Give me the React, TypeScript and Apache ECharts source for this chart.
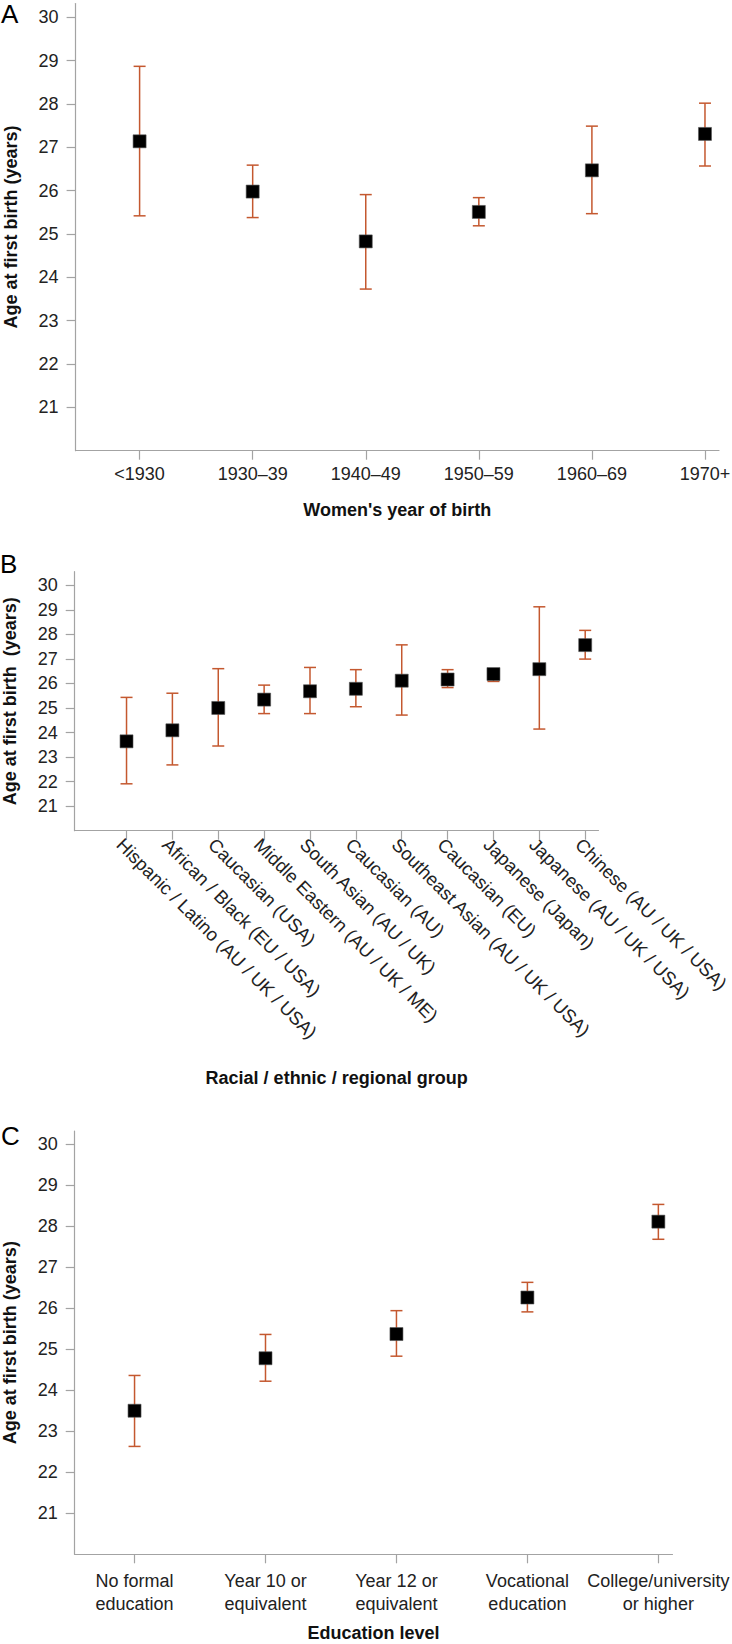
import React, { useEffect, useRef } from "react";
import * as echarts from "echarts";

// ---------- Data ----------
const categoriesA = ["<1930", "1930–39", "1940–49", "1950–59", "1960–69", "1970+"];
const meanA = [27.14, 25.98, 24.83, 25.51, 26.47, 27.31];
const lowA = [25.42, 25.38, 23.73, 25.19, 25.47, 26.57];
const highA = [28.87, 26.59, 25.91, 25.84, 27.49, 28.02];

const categoriesB = [
  "Hispanic / Latino (AU / UK / USA)",
  "African / Black (EU / USA)",
  "Caucasian (USA)",
  "Middle Eastern (AU / UK / ME)",
  "South Asian (AU / UK)",
  "Caucasian (AU)",
  "Southeast Asian (AU / UK / USA)",
  "Caucasian (EU)",
  "Japanese (Japan)",
  "Japanese (AU / UK / USA)",
  "Chinese (AU / UK / USA)",
];
const meanB = [23.64, 24.09, 25.0, 25.34, 25.68, 25.78, 26.11, 26.16, 26.38, 26.58, 27.56];
const lowB = [21.91, 22.68, 23.45, 24.77, 24.77, 25.05, 24.71, 25.83, 26.08, 24.14, 26.99];
const highB = [25.43, 25.6, 26.6, 25.93, 26.65, 26.56, 27.57, 26.56, 26.55, 29.12, 28.16];

const categoriesC = [
  "No formal\neducation",
  "Year 10 or\nequivalent",
  "Year 12 or\nequivalent",
  "Vocational\neducation",
  "College/university\nor higher",
];
const meanC = [23.5, 24.78, 25.37, 26.26, 28.11];
const lowC = [22.63, 24.22, 24.83, 25.91, 27.68];
const highC = [24.36, 25.36, 25.94, 26.63, 28.53];

const yTicks = [21, 22, 23, 24, 25, 26, 27, 28, 29, 30];
const yName = "Age at first birth (years)";
const yNameB = "Age at first birth  (years)";
const xNameA = "Women's year of birth";
const xNameB = "Racial / ethnic / regional group";
const xNameC = "Education level";

// ---------- Style ----------
const FONT = "Liberation Sans, Arial, sans-serif";
const AXIS_COLOR = "#a3a3a3";
const LABEL_COLOR = "#222";
const ERR_COLOR = "#c4582f";

function errorSeries(idx: number, low: number[], high: number[]) {
  return {
    type: "custom",
    xAxisIndex: idx,
    yAxisIndex: idx,
    silent: true,
    z: 2,
    data: low.map((l, i) => [i, l, high[i]]),
    renderItem: (params: any, api: any) => {
      const x = api.value(0);
      const p1 = api.coord([x, api.value(1)]);
      const p2 = api.coord([x, api.value(2)]);
      const hw = 6;
      const style = { stroke: ERR_COLOR, lineWidth: 1.5 };
      return {
        type: "group",
        children: [
          { type: "line", shape: { x1: p1[0], y1: p1[1], x2: p2[0], y2: p2[1] }, style },
          { type: "line", shape: { x1: p1[0] - hw, y1: p1[1], x2: p1[0] + hw, y2: p1[1] }, style },
          { type: "line", shape: { x1: p2[0] - hw, y1: p2[1], x2: p2[0] + hw, y2: p2[1] }, style },
        ],
      };
    },
  };
}

function meanSeries(idx: number, mean: number[]) {
  return {
    type: "scatter",
    xAxisIndex: idx,
    yAxisIndex: idx,
    symbol: "rect",
    symbolSize: 13,
    z: 3,
    itemStyle: { color: "#000", borderColor: "#555", borderWidth: 0.6, opacity: 1 },
    emphasis: { disabled: true },
    data: mean.map((m, i) => [i, m]),
  };
}

function xAxis(
  idx: number,
  cats: string[],
  min: number,
  max: number,
  name: string,
  nameGap: number,
  labelExtra: any
) {
  const idxs = cats.map((_, i) => i);
  return {
    type: "value",
    gridIndex: idx,
    min,
    max,
    name,
    nameLocation: "middle",
    nameGap,
    nameTextStyle: { fontFamily: FONT, fontWeight: "bold", fontSize: 18, color: "#111" },
    splitLine: { show: false },
    axisLine: { show: true, onZero: false, lineStyle: { color: AXIS_COLOR, width: 1.2 } },
    axisTick: { show: true, length: 9, customValues: idxs, lineStyle: { color: AXIS_COLOR, width: 1.2 } },
    axisLabel: {
      show: true,
      customValues: idxs,
      fontFamily: FONT,
      fontSize: 18,
      color: LABEL_COLOR,
      formatter: (v: number) => cats[Math.round(v)] ?? "",
      ...labelExtra,
    },
  };
}

function yAxis(idx: number, max: number, name: string, nameGap: number) {
  return {
    type: "value",
    gridIndex: idx,
    min: 20,
    max,
    name,
    nameLocation: "middle",
    nameGap,
    nameTextStyle: { fontFamily: FONT, fontWeight: "bold", fontSize: 18, color: "#111" },
    splitLine: { show: false },
    axisLine: { show: true, onZero: false, lineStyle: { color: AXIS_COLOR, width: 1.2 } },
    axisTick: { show: true, length: 9, customValues: yTicks, lineStyle: { color: AXIS_COLOR, width: 1.2 } },
    axisLabel: {
      show: true,
      customValues: yTicks,
      margin: 17,
      fontFamily: FONT,
      fontSize: 18,
      color: LABEL_COLOR,
    },
  };
}

export default function App() {
  const ref = useRef<HTMLDivElement>(null);
  useEffect(() => {
    if (!ref.current) return;
    const chart = echarts.init(ref.current, null, { renderer: "svg" });
    const option: any = {
      animation: false,
      backgroundColor: "#fff",
      grid: [
        { left: 75.6, top: 3.5, width: 643.4, height: 447.2, outerBoundsMode: "none", containLabel: false },
        { left: 74.7, top: 571.7, width: 523.8, height: 259, outerBoundsMode: "none", containLabel: false },
        { left: 74.7, top: 1131, width: 597.8, height: 423.3, outerBoundsMode: "none", containLabel: false },
      ],
      xAxis: [
        xAxis(0, categoriesA, -0.566, 5.124, xNameA, 50, { margin: 14 }),
        xAxis(1, categoriesB, -1.13, 10.29, xNameB, 238, {
          margin: 4,
          rotate: -45,
          fontSize: 18.5,
          align: "left",
          verticalAlign: "top",
        }),
        xAxis(2, categoriesC, -0.457, 4.108, xNameC, 70, { margin: 15, lineHeight: 23 }),
      ],
      yAxis: [
        yAxis(0, 30.32, yName, 56),
        yAxis(1, 30.55, yNameB, 56),
        yAxis(2, 30.32, yName, 56),
      ],
      graphic: [
        { type: "text", left: 1, top: 1, style: { text: "A", fontSize: 26, fontFamily: FONT, fill: "#000" } },
        { type: "text", left: 0, top: 551, style: { text: "B", fontSize: 26, fontFamily: FONT, fill: "#000" } },
        { type: "text", left: 1, top: 1123, style: { text: "C", fontSize: 26, fontFamily: FONT, fill: "#000" } },
      ],
      series: [
        errorSeries(0, lowA, highA),
        meanSeries(0, meanA),
        errorSeries(1, lowB, highB),
        meanSeries(1, meanB),
        errorSeries(2, lowC, highC),
        meanSeries(2, meanC),
      ],
    };
    chart.setOption(option);
    return () => chart.dispose();
  }, []);
  return (
    <div
      ref={ref}
      style={{ position: "absolute", left: 0, top: 0, width: 732, height: 1644, background: "#fff" }}
    />
  );
}
